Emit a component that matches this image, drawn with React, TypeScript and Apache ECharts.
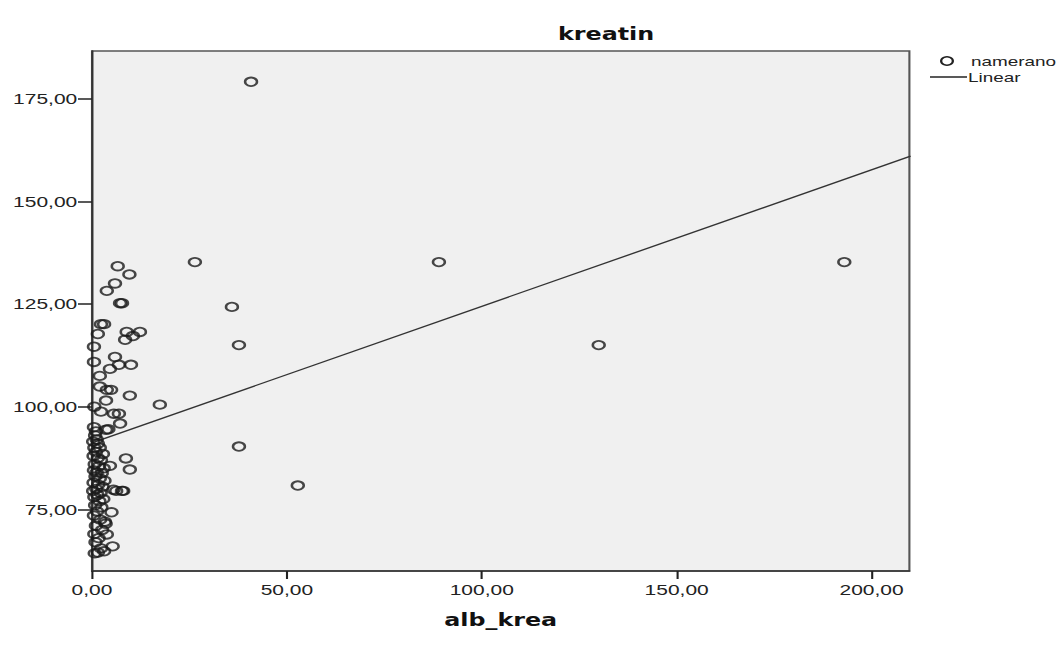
import React, { useEffect, useRef } from "react";
import * as echarts from "echarts";

const albKrea: number[] = [
  40.8, 26.4, 89, 193, 35.9, 37.7, 130, 37.7, 52.8, 17.4,
  12.3, 9.6, 6.6, 5.9, 3.8, 7.2, 7.7, 3.1, 2.3, 1.5,
  8.9, 8.5, 10.5, 0.5, 5.9, 10, 6.9, 0.5, 4.6, 2,
  4.9, 3.8, 2, 9.7, 3.6, 2.3, 5.6, 6.9, 7.2, 3.6,
  0.6, 8.7, 9.7, 4.6, 7.7, 6.2, 5, 3.8, 5.3, 3.1,
  0.5, 1, 0.8, 1.2, 0.3, 1.5, 0.6, 2, 1, 2.8,
  0.4, 1.5, 2.3, 0.7, 1.8, 3, 0.5, 1.2, 2.5, 0.9,
  2, 3.2, 0.4, 1.6, 2.7, 1.1, 0.3, 2.2, 1.4, 0.6,
  2.9, 1.9, 0.8, 2.4, 1.3, 0.5, 2.1, 3.5, 1, 2.6,
  0.6, 1.7, 0.9, 2.3, 1.5, 0.7, 4.2, 5.5, 8, 3.3
];
const kreatin: number[] = [
  179.1, 135.2, 135.2, 135.2, 124.3, 115, 115, 90.3, 80.8, 100.5,
  118.2, 132.2, 134.2, 130, 128.2, 125.2, 125.2, 120.1, 120.1, 117.7,
  118.2, 116.3, 117.2, 114.6, 112.1, 110.2, 110.2, 110.9, 109.2, 107.5,
  104.1, 104.1, 104.9, 102.7, 101.5, 98.8, 98.3, 98.3, 95.9, 94.4,
  100, 87.4, 84.7, 85.6, 79.5, 79.5, 74.3, 68.9, 66, 64.8,
  95, 94, 93, 92, 91.5, 91, 90, 90, 89, 88.5,
  88, 87.5, 87, 86, 85.5, 85, 84.5, 84, 83.8, 83,
  82.5, 82, 81.5, 81, 80.5, 80, 79.5, 79, 78.5, 78,
  77.5, 77, 76, 75.5, 74.5, 73.5, 72.5, 71.5, 71, 70,
  69, 68, 67, 65.5, 64.5, 64.3, 94.5, 79.8, 79.5, 72
];
const fitX: number[] = [0, 210];
const fitY: number[] = [91.2, 161];
const xTicks: number[] = [0, 50, 100, 150, 200];
const yTicks: number[] = [75, 100, 125, 150, 175];

const fmt = (v: number) => v.toFixed(2).replace(".", ",");
const FONT = "Liberation Sans, Arial, sans-serif";
const BOLD = "DejaVu Sans, sans-serif";

// The reference picture is stretched horizontally; draw narrower and stretch.
const SX = 1.4;
const W = 1059 / SX;
const H = 645;

export default function App() {
  const ref = useRef<HTMLDivElement>(null);
  useEffect(() => {
    if (!ref.current) return;
    const chart = echarts.init(ref.current, undefined, { renderer: "svg" });
    const points = albKrea.map((x, i) => [x, kreatin[i]]);
    const line = fitX.map((x, i) => [x, fitY[i]]);
    chart.setOption({
      animation: false,
      backgroundColor: "#ffffff",
      grid: {
        left: 92 / SX, top: 51, right: 149 / SX, bottom: 74,
        show: true, backgroundColor: "#F0F0F0", borderColor: "#555", borderWidth: 1.5,
      },
      xAxis: {
        type: "value", min: 0, max: 209.7,
        splitLine: { show: false },
        axisLine: { show: true, onZero: false, lineStyle: { color: "#333", width: 1.5 } },
        axisTick: { show: true, length: 8, customValues: xTicks, lineStyle: { color: "#222", width: 1.5 } },
        axisLabel: {
          customValues: xTicks, formatter: fmt, margin: 11,
          color: "#222", fontSize: 15, fontFamily: FONT,
        },
        name: "alb_krea", nameLocation: "middle", nameGap: 41,
        nameTextStyle: { fontWeight: "bold", fontSize: 17, color: "#111", fontFamily: BOLD },
      },
      yAxis: {
        type: "value", min: 60, max: 186.6,
        splitLine: { show: false },
        axisLine: { show: true, onZero: false, lineStyle: { color: "#333", width: 1.5 } },
        axisTick: { show: true, length: 10, customValues: yTicks, lineStyle: { color: "#222", width: 1.5 } },
        axisLabel: {
          customValues: yTicks, formatter: fmt, margin: 10.5,
          color: "#222", fontSize: 15, fontFamily: FONT,
        },
      },
      series: [
        {
          type: "line", data: line, symbol: "none",
          lineStyle: { color: "#333", width: 1.3 }, silent: true, z: 1,
        },
        {
          type: "scatter", data: points, symbol: "circle", symbolSize: 8.5,
          itemStyle: { color: "rgba(0,0,0,0)", borderColor: "#1a1a1a", borderWidth: 1.8 },
          z: 2,
        },
      ],
      graphic: [
        {
          type: "text", left: 558 / SX, top: 26,
          style: { text: "kreatin", font: `bold 17px ${BOLD}`, fill: "#111" },
        },
        {
          type: "circle", shape: { cx: 947 / SX, cy: 61, r: 4.2 },
          style: { fill: "none", stroke: "#222", lineWidth: 1.6 },
        },
        {
          type: "text", left: 971 / SX, top: 54,
          style: { text: "namerano", font: `13.5px ${FONT}`, fill: "#222" },
        },
        {
          type: "line", shape: { x1: 930 / SX, y1: 77, x2: 967 / SX, y2: 77 },
          style: { stroke: "#222", lineWidth: 1.3 },
        },
        {
          type: "text", left: 968 / SX, top: 70,
          style: { text: "Linear", font: `13.5px ${FONT}`, fill: "#222" },
        },
      ],
    });
    return () => chart.dispose();
  }, []);
  return (
    <div
      ref={ref}
      style={{
        position: "fixed", left: 0, top: 0, width: W, height: H,
        transform: `scaleX(${SX})`, transformOrigin: "0 0",
      }}
    />
  );
}
